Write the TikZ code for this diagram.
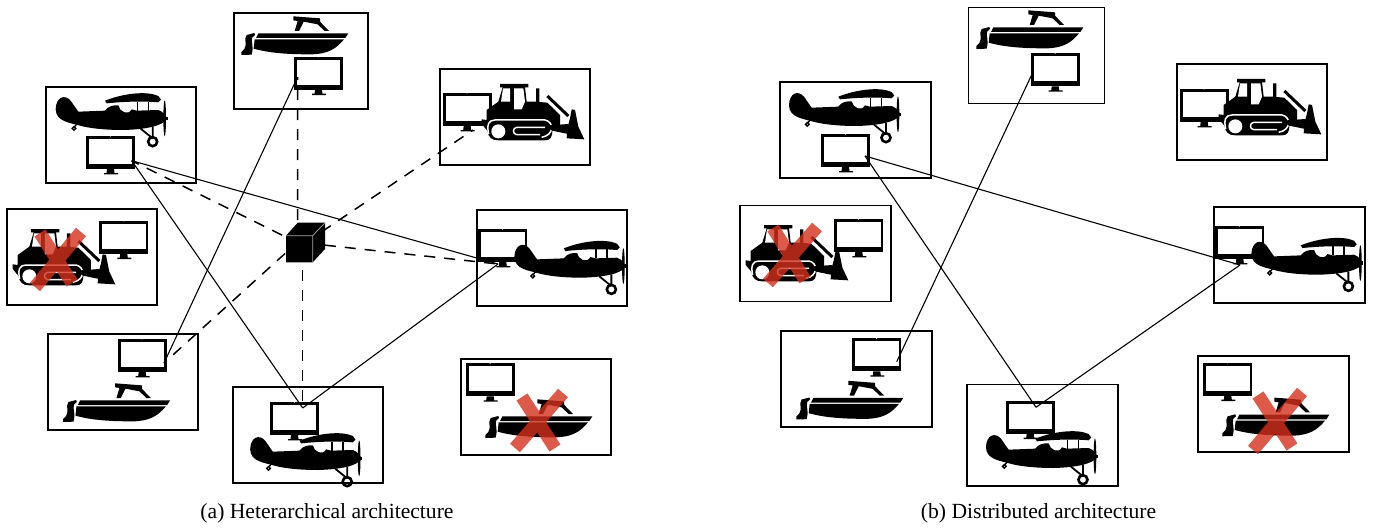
\documentclass[tikz,border=0pt]{standalone}
\usepackage{fontspec}
\setmainfont{Liberation Serif}
\definecolor{xred}{HTML}{D5301C}
\tikzset{
  boxnode/.style={draw=black,line width=1.8pt,minimum width=#1,minimum height=96pt,inner sep=0pt,outer sep=0pt,anchor=north west},
  boxnode/.default=150pt,
  solidlink/.style={draw=black,line width=1.1pt},
  dashlink/.style={draw=black,line width=1.5pt,dash pattern=on 11pt off 9pt},
  capt/.style={font=\fontsize{21.6}{24}\selectfont,inner sep=0pt,text=black},
  monpic/.pic={
    \fill[black] (0,0) rectangle (49,33);
    \fill[white] (3,3) rectangle (46.3,28);
    \fill[white] (24.3,0.2) circle[radius=0.5];
    \fill[black] (21,33) -- (28,33) -- (28.5,37) -- (32,37) -- (32,38.4) -- (18,38.4) -- (18,37) -- (20.5,37) -- cycle;
  },
  planepic/.pic={
    \begin{scope}[scale=1/3]
    \fill[black] (77,118) .. controls (78,80) and (105,72) .. (122,92) -- (145,125) -- (225,122)
      .. controls (235,108) and (250,105) .. (265,106) .. controls (268,125) and (295,138) .. (305,118)
      -- (320,122) -- (385,120) .. controls (400,125) and (410,138) .. (411,148)
      .. controls (395,168) and (350,178) .. (280,180) .. controls (220,180) and (175,174) .. (150,167)
      .. controls (120,158) and (78,155) .. (77,118) -- cycle;
    \fill[black] (225,92) .. controls (280,70) and (350,62) .. (385,78) -- (393,89) -- (385,97)
      .. controls (330,92) and (270,96) .. (230,100) -- cycle;
    \draw[black,line width=1.6pt] (322,95) -- (322,122) (355,95) -- (355,122);
    \fill[black] (404,145) ellipse[x radius=4,y radius=54];
    \fill[black] (398,140) rectangle (413,150);
    \draw[black,line width=1.8pt] (332,176) -- (368,205) (368,170) -- (368,205);
    \draw[black,line width=2.6pt] (368,215) circle[radius=13.5];
    \draw[black,line width=1.4pt] (142,160) -- (134,170);
    \draw[black,line width=1.4pt] (132,175) circle[radius=5.5];
    \end{scope}
  },
  boatpic/.pic={
    \begin{scope}[scale=1/3]
    \fill[black] (100,85) -- (370,85) -- (361,99) -- (93,99) -- cycle;
    \fill[black] (89,103) -- (357,103) .. controls (335,130) and (310,147) .. (260,148)
      .. controls (200,148) and (140,146) .. (86,131) -- cycle;
    \fill[black] (205,34) -- (285,40) -- (285,50) -- (312,78) -- (299,78) -- (278,58) -- (236,50)
      -- (222,78) -- (209,78) -- (218,48) -- (205,46) -- cycle;
    \fill[black] (65,90) -- (88,84) -- (90,90) -- (82,97) .. controls (76,110) and (88,120) .. (80,149)
      -- (49,150) -- (49,141) -- (58,132) .. controls (68,115) and (55,105) .. (65,90) -- cycle;
    \end{scope}
  },
  dozerpic/.pic={
    \begin{scope}[scale=1/3]
    \fill[black] (205,125) -- (218,82) -- (210,82) -- (210,72) -- (295,72) -- (295,82) -- (285,82)
      -- (290,125) -- (318,125) -- (318,85) -- (328,85) -- (328,126) -- (352,128) -- (390,165)
      -- (390,198) -- (366,205) .. controls (370,232) and (360,241) .. (345,241)
      -- (205,241) .. controls (185,241) and (175,232) .. (172,212) -- (155,192) -- (155,178) -- (170,180) -- (170,150) -- cycle;
    \fill[white] (219,85) -- (240,85) -- (240,125) -- (213,125) -- cycle;
    \fill[white] (252,85) -- (280,85) -- (285,125) -- (275,148) -- (252,148) -- cycle;
    \draw[white,line width=1.5pt] (176,222) .. controls (170,195) and (175,180) .. (195,180) -- (345,180) .. controls (372,185) and (374,225) .. (335,232);
    \fill[white] (205,214) circle[radius=21];
    \draw[white,line width=1.4pt] (345,202) -- (260,202) .. controls (247,204) and (247,222) .. (260,224) -- (330,224);
    \fill[black] (425,148) -- (435,150) -- (445,200) -- (463,238) -- (410,235) -- (412,205) -- (420,175) -- cycle;
    \fill[black] (345,197) -- (415,192) -- (415,222) -- (366,212) -- cycle;
    \draw[black,line width=3pt] (352,108) -- (415,168);
    \end{scope}
  },
  xmark/.style={draw=xred,line width=13pt,opacity=0.8},
}
\begin{document}
\begin{tikzpicture}[x=1pt,y=-1pt]
\useasboundingbox (0,0) rectangle (1375,527);
% ---------- (a) ----------
\node[boxnode] (A) at (46,87) {};
\node[boxnode=134.5pt] (B) at (233.7,13) {};
\node[boxnode] (C) at (440.3,69) {};
\node[boxnode] (D) at (476.7,210) {};
\node[boxnode] (E) at (7.3,209) {};
\node[boxnode] (F) at (48,334) {};
\node[boxnode] (G) at (233,387) {};
\node[boxnode] (H) at (461,359) {};
\pic at (86,136) {monpic};
\pic at (30,70) {planepic};
\pic at (294,56.7) {monpic};
\pic at (225,5) {boatpic};
\pic at (442.7,93) {monpic};
\pic at (430,60) {dozerpic};
\pic at (478.3,229) {monpic};
\pic at (488.7,217.7) {planepic};
\pic at (99.3,220.7) {monpic};
\pic at (-39,205) {dozerpic};
\pic at (117.7,339) {monpic};
\pic at (46.8,372) {boatpic};
\pic at (270,402) {monpic};
\pic at (224.5,410) {planepic};
\pic at (465.7,363.3) {monpic};
\pic at (469,388) {boatpic};
\draw[xmark] (35,287) -- (81,232) (40,233) -- (72,283);
\draw[xmark] (515,448) -- (563,393) (522,397) -- (555,448);
\coordinate (pA) at (131.7,160.7);
\coordinate (pB) at (297.6,77);
\coordinate (pC) at (473,130);
\coordinate (pD) at (498,264);
\coordinate (pF) at (164,363);
\coordinate (pG) at (302.7,408);
\coordinate (hub) at (305,243);
\coordinate (hubA) at (300,244);
\coordinate (hubB) at (297.7,240);
\coordinate (hubF) at (300,240);
\coordinate (hubG) at (302.7,250);
\draw[dashlink] (hubA) -- (pA);
\draw[dashlink] (hubB) -- (pB);
\draw[dashlink] (hub) -- (pC);
\draw[dashlink] (hub) -- (pD);
\draw[dashlink] (hubF) -- (pF);
\draw[dashlink] (hubG) -- (pG);
\draw[solidlink] (pA) -- (pD);
\draw[solidlink] (pA) -- (pG);
\draw[solidlink] (pB) -- (pF);
\draw[solidlink] (pD) -- (pG);
\fill[black] (286,235.7) -- (297.7,222.7) -- (325,222.7) -- (325,249) -- (312.7,262.3) -- (286,262.3) -- cycle;
\draw[gray!70,line width=0.7pt] (286,235.7) -- (312.7,235.7) -- (312.7,262.3) (312.7,235.7) -- (325,222.7);
% ---------- (b) ----------
\node[boxnode=151pt] (A2) at (779.8,81.7) {};
\node[boxnode=136pt] (B2) at (968.5,7.5) {};
\node[boxnode] (C2) at (1177,64) {};
\node[boxnode=151pt] (D2) at (1214,207) {};
\node[boxnode=151pt] (E2) at (740.3,205.5) {};
\node[boxnode=151pt] (F2) at (781,331) {};
\node[boxnode=151pt,minimum height=101.5pt] (G2) at (967,384.5) {};
\node[boxnode=151pt] (H2) at (1198,356.3) {};
\pic at (821,134) {monpic};
\pic at (763.3,66) {planepic};
\pic at (1030.7,53.3) {monpic};
\pic at (960,-1) {boatpic};
\pic at (1179.7,89) {monpic};
\pic at (1167,55) {dozerpic};
\pic at (1215.3,226) {monpic};
\pic at (1225.7,214.7) {planepic};
\pic at (834.3,219) {monpic};
\pic at (694,201) {dozerpic};
\pic at (852.3,338.3) {monpic};
\pic at (780,369.5) {boatpic};
\pic at (1005.7,400.7) {monpic};
\pic at (960.3,408) {planepic};
\pic at (1203.3,362.7) {monpic};
\pic at (1206,386.3) {boatpic};
\draw[xmark] (768,283) -- (817,227) (773,228) -- (805,280);
\draw[xmark] (1253,450) -- (1302,392) (1258,395) -- (1292,447);
\coordinate (qA) at (865,156);
\coordinate (qB) at (1033,72);
\coordinate (qD) at (1240,265);
\coordinate (qF) at (896.7,361.7);
\coordinate (qG) at (1036,407.3);
\draw[solidlink] (qA) -- (qD);
\draw[solidlink] (qA) -- (qG);
\draw[solidlink] (qB) -- (qF);
\draw[solidlink] (qD) -- (qG);
\node[capt] (capa) at (327,513.5) {(a) Heterarchical architecture};
\node[capt] (capb) at (1038.5,513.5) {(b) Distributed architecture};
\end{tikzpicture}
\end{document}
